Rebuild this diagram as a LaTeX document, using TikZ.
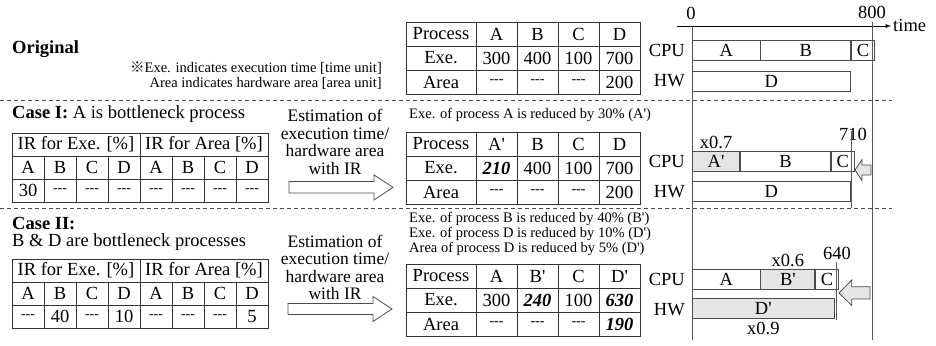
\documentclass[tikz,border=0pt]{standalone}
\usepackage{fontspec}
\setmainfont{Liberation Serif}
\newfontfamily\tms{Liberation Serif}
\newfontfamily\cjkfont{Noto Sans CJK JP}
\usetikzlibrary{positioning}
\newcommand{\bigtxt}{\tms\fontsize{18.5}{17}\selectfont}
\newcommand{\midtxt}{\tms\fontsize{17.5}{17.5}\selectfont}
\newcommand{\smalltxt}{\tms\fontsize{14.5}{15}\selectfont}
\newcommand{\nodata}{{\fontsize{14}{14}\selectfont ---}}
\newcommand{\bi}[1]{{\bfseries\itshape #1}}

\begin{document}
\begin{tikzpicture}[x=1pt,y=-1pt,
  every node/.style={font=\bigtxt,inner sep=0pt},
  cell/.style={draw=black!80,line width=0.9pt,minimum width=41,minimum height=24},
  ircell/.style={draw=black!80,line width=0.9pt,minimum width=32,minimum height=23},
  gbar/.style={draw=black!70,line width=0.9pt,minimum height=20,anchor=west},
  gfill/.style={fill=black!10},
  vline/.style={draw=black!65,line width=1pt},
  sepline/.style={black!70,line width=0.8pt,dash pattern=on 4pt off 3pt},
  blockarrow/.style={draw=black!70,line width=0.8pt}]
  \useasboundingbox (0,0) rectangle (936,345);

  \draw[sepline] (0,100) -- (892,100);
  \draw[sepline] (0,208) -- (892,208);

  % original
  \node[anchor=west,font=\bigtxt\bfseries] (orig) at (12,49) {Original};
  \node[anchor=east,align=right,font=\smalltxt] (unit) at (382,75.5)
    {{\cjkfont ※}Exe. indicates execution time [time unit]\\Area indicates hardware area [area unit]};

  \foreach \r/\y/\t in {p/34/Process,e/58/Exe.,a/82/Area}
    \node[cell,minimum width=70] (t0-\r) at (441,\y) {\t};
  \foreach \c/\x/\p/\e/\a in {1/496.5/A/300/\nodata,2/537.5/B/400/\nodata,3/578.5/C/100/\nodata,4/619.5/D/700/200}{
    \node[cell] (t0-p\c) at (\x,34) {\p};
    \node[cell] (t0-e\c) at (\x,58) {\e};
    \node[cell] (t0-a\c) at (\x,82) {\a};
  }

  % case I
  \node[anchor=west] (case1) at (12,114) {\textbf{Case I:} A is bottleneck process};
  \node[ircell,minimum width=128] (r1-he) at (76,144.5) {IR for Exe. [\%]};
  \node[ircell,minimum width=128] (r1-ha) at (204,144.5) {IR for Area [\%]};
  \foreach \c/\l/\v in {1/A/30,2/B/\nodata,3/C/\nodata,4/D/\nodata,5/A/\nodata,6/B/\nodata,7/C/\nodata,8/D/\nodata}{
    \node[ircell] (r1-l\c) at (32*\c-4,167.5) {\l};
    \node[ircell] (r1-v\c) at (32*\c-4,190.5) {\v};
  }
  \node[align=center,font=\midtxt] (est1) at (335,142) {Estimation of\\execution time/\\hardware area\\with IR};
  \filldraw[blockarrow,fill=white] (289,181.5) -- (374,181.5) -- (374,175) -- (393,187.3)
    -- (374,200) -- (374,193) -- (289,193) -- cycle;
  \node[anchor=west,font=\smalltxt] (note1) at (409,115) {Exe. of process A is reduced by 30\% (A')};

  \foreach \r/\y/\t in {p/144/Process,e/168/Exe.,a/192/Area}
    \node[cell,minimum width=70] (t1-\r) at (441,\y) {\t};
  \foreach \c/\x/\p/\e/\a in {1/496.5/A'/\bi{210}/\nodata,2/537.5/B/400/\nodata,3/578.5/C/100/\nodata,4/619.5/D/700/200}{
    \node[cell] (t1-p\c) at (\x,144) {\p};
    \node[cell] (t1-e\c) at (\x,168) {\e};
    \node[cell] (t1-a\c) at (\x,192) {\a};
  }

  % case II
  \node[anchor=west,align=left,font=\tms\fontsize{18.5}{17}\selectfont] (case2) at (12,233.5)
    {\textbf{Case II:}\\B \& D are bottleneck processes};
  \node[ircell,minimum width=128] (r2-he) at (76,270.5) {IR for Exe. [\%]};
  \node[ircell,minimum width=128] (r2-ha) at (204,270.5) {IR for Area [\%]};
  \foreach \c/\l/\v in {1/A/\nodata,2/B/40,3/C/\nodata,4/D/10,5/A/\nodata,6/B/\nodata,7/C/\nodata,8/D/5}{
    \node[ircell] (r2-l\c) at (32*\c-4,293.5) {\l};
    \node[ircell] (r2-v\c) at (32*\c-4,316.5) {\v};
  }
  \node[align=center,font=\midtxt] (est2) at (335,267.5) {Estimation of\\execution time/\\hardware area\\with IR};
  \filldraw[blockarrow,fill=white] (288,303.5) -- (373,303.5) -- (373,296.5) -- (392,309)
    -- (373,321.5) -- (373,314.5) -- (288,314.5) -- cycle;
  \node[anchor=west,align=left,font=\smalltxt] (note2) at (409,234)
    {Exe. of process B is reduced by 40\% (B')\\Exe. of process D is reduced by 10\% (D')\\Area of process D is reduced by 5\% (D')};

  \foreach \r/\y/\t in {p/276/Process,e/300/Exe.,a/324/Area}
    \node[cell,minimum width=70] (t2-\r) at (441,\y) {\t};
  \foreach \c/\x/\p/\e/\a in {1/496.5/A/300/\nodata,2/537.5/B'/\bi{240}/\nodata,3/578.5/C/100/\nodata,4/619.5/D'/\bi{630}/\bi{190}}{
    \node[cell] (t2-p\c) at (\x,276) {\p};
    \node[cell] (t2-e\c) at (\x,300) {\e};
    \node[cell] (t2-a\c) at (\x,324) {\a};
  }

  % time chart
  \node[anchor=west,inner sep=2pt] (time) at (891,25) {time};
  \coordinate (ax) at (677,26);
  \draw[-latex,line width=0.9pt] (ax) -- (time.west |- ax);
  \node (z0) at (691,13) {0};
  \node (z800) at (872,12) {800};
  \draw[vline] (692,26) -- (692,340);
  \draw[vline] (872,22) -- (872,340);

  \foreach \s/\y in {0/0,1/111,2/229}{
    \node[anchor=east] (cpu\s) at (685,50.7+\y) {CPU};
    \node[anchor=east] (hw\s) at (685,81+\y) {HW};
  }

  \node[gbar,minimum width=67.5] (g0-a) at (692,50.7) {A};
  \node[gbar,minimum width=90] (g0-b) at (g0-a.east) {B};
  \node[gbar,minimum width=22.5] (g0-c) at (g0-b.east) {C};
  \node[gbar,minimum width=157.5] (g0-d) at (692,81.3) {D};

  \node[gbar,gfill,minimum width=47.25] (g1-a) at (692,161.7) {A'};
  \node[gbar,minimum width=90] (g1-b) at (g1-a.east) {B};
  \node[gbar,minimum width=22.5] (g1-c) at (g1-b.east) {C};
  \node[gbar,minimum width=157.5] (g1-d) at (692,191.3) {D};
  \node[above=2pt of g1-a] (x07) {x0.7};
  \node (m710) at (853,134) {710};
  \draw[vline] (851.75,131) -- (851.75,208);
  \filldraw[blockarrow,gfill] (871,165) -- (862,165) -- (862,159.5) -- (855,170)
    -- (862,180.5) -- (862,175) -- (871,175) -- cycle;

  \node[gbar,minimum width=67.5] (g2-a) at (692,279.7) {A};
  \node[gbar,gfill,minimum width=54] (g2-b) at (g2-a.east) {B'};
  \node[gbar,minimum width=22.5] (g2-c) at (g2-b.east) {C};
  \node[gbar,gfill,minimum width=141.75] (g2-d) at (692,308.3) {D'};
  \node[above=2pt of g2-b] (x06) {x0.6};
  \node[below=3pt of g2-d] (x09) {x0.9};
  \node (m640) at (837,253) {640};
  \draw[vline] (836,262) -- (836,320);
  \filldraw[blockarrow,gfill] (870,286.7) -- (851.7,286.7) -- (851.7,280) -- (839,293)
    -- (851.7,305.5) -- (851.7,299) -- (870,299) -- cycle;
\end{tikzpicture}
\end{document}
